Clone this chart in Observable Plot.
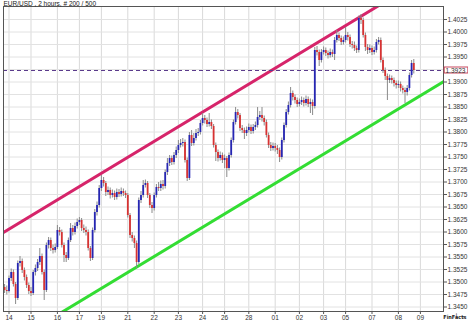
<!DOCTYPE html>
<html><head><meta charset="utf-8">
<script src="https://cdn.jsdelivr.net/npm/d3@7"></script>
<script src="https://cdn.jsdelivr.net/npm/@observablehq/plot@0.6"></script>
<style>html,body{margin:0;padding:0;background:#fff;}</style>
</head><body><div id="chart"></div>
<script>
const titleText = "EUR/USD , 2 hours, # 200 / 500";
const dayLabels = ["14","15","16","17","19","21","22","23","24","26","28","01","02","03","05","07","08","09"];
const dayTicks = [2,12,24,34,44,56,68,79,90,100,111,123,134,145,155,167,179,189];
const yGrid = [1.3450,1.3475,1.3500,1.3525,1.3550,1.3575,1.3600,1.3625,1.3650,1.3675,1.3700,1.3725,1.3750,1.3775,1.3800,1.3825,1.3850,1.3875,1.3900,1.3925,1.3950,1.3975,1.4000,1.4025];
const yLabels = [1.3450,1.3475,1.3500,1.3525,1.3550,1.3575,1.3600,1.3625,1.3650,1.3675,1.3700,1.3725,1.3750,1.3775,1.3800,1.3825,1.3850,1.3875,1.3900,1.3950,1.3975,1.4000,1.4025];
const lastPrice = 1.3923;
const upperChannel = [{i:-2, p:1.3595},{i:175, p:1.4066}];
const lowerChannel = [{i:-2, p:1.3365},{i:200, p:1.3902}];

const open = [1.3489,1.3483,1.3481,1.3507,1.3519,1.3495,1.3467,1.3537,1.3541,1.3523,
1.3509,1.3493,1.3481,1.3477,1.3519,1.3527,1.3539,1.3551,1.3519,1.3483,
1.3573,1.3583,1.3567,1.3563,1.3569,1.3603,1.3599,1.3573,1.3553,1.3547,
1.3583,1.3607,1.3599,1.3611,1.3619,1.3623,1.3607,1.3603,1.3599,1.3567,
1.3547,1.3603,1.3639,1.3653,1.3687,1.3703,1.3697,1.3679,1.3683,1.3673,
1.3677,1.3669,1.3679,1.3675,1.3681,1.3677,1.3673,1.3633,1.3593,1.3587,
1.3577,1.3539,1.3663,1.3673,1.3693,1.3697,1.3673,1.3653,1.3647,1.3673,
1.3689,1.3687,1.3695,1.3691,1.3719,1.3737,1.3747,1.3739,1.3753,1.3763,
1.3773,1.3777,1.3779,1.3743,1.3707,1.3793,1.3777,1.3787,1.3797,1.3799,
1.3817,1.3827,1.3823,1.3815,1.3819,1.3811,1.3773,1.3759,1.3747,1.3753,
1.3743,1.3747,1.3727,1.3753,1.3783,1.3819,1.3839,1.3833,1.3807,1.3803,
1.3797,1.3803,1.3809,1.3801,1.3809,1.3813,1.3829,1.3833,1.3827,1.3819,
1.3793,1.3773,1.3767,1.3771,1.3767,1.3763,1.3749,1.3783,1.3813,1.3839,
1.3853,1.3877,1.3869,1.3863,1.3855,1.3859,1.3863,1.3857,1.3865,1.3855,
1.3859,1.3851,1.3963,1.3959,1.3943,1.3959,1.3963,1.3957,1.3953,1.3959,
1.3955,1.3983,1.3993,1.3987,1.3979,1.3983,1.3993,1.3989,1.3975,1.3973,
1.3967,1.3963,1.4027,1.4023,1.3993,1.3969,1.3963,1.3967,1.3959,1.3963,
1.3979,1.3983,1.3943,1.3923,1.3911,1.3903,1.3907,1.3903,1.3897,1.3893,
1.3895,1.3887,1.3883,1.3879,1.3887,1.3913,1.3937];

const close = [1.3483,1.3481,1.3507,1.3519,1.3495,1.3467,1.3537,1.3541,1.3523,1.3509,
1.3493,1.3481,1.3477,1.3519,1.3527,1.3539,1.3551,1.3519,1.3483,1.3573,
1.3583,1.3567,1.3563,1.3569,1.3603,1.3599,1.3573,1.3553,1.3547,1.3583,
1.3607,1.3599,1.3611,1.3619,1.3623,1.3607,1.3603,1.3599,1.3567,1.3547,
1.3603,1.3639,1.3653,1.3687,1.3703,1.3697,1.3679,1.3683,1.3673,1.3677,
1.3669,1.3679,1.3675,1.3681,1.3677,1.3673,1.3633,1.3593,1.3587,1.3577,
1.3539,1.3663,1.3673,1.3693,1.3697,1.3673,1.3653,1.3647,1.3673,1.3689,
1.3687,1.3695,1.3691,1.3719,1.3737,1.3747,1.3739,1.3753,1.3763,1.3773,
1.3777,1.3779,1.3743,1.3707,1.3793,1.3777,1.3787,1.3797,1.3799,1.3817,
1.3827,1.3823,1.3815,1.3819,1.3811,1.3773,1.3759,1.3747,1.3753,1.3743,
1.3747,1.3727,1.3753,1.3783,1.3819,1.3839,1.3833,1.3807,1.3803,1.3797,
1.3803,1.3809,1.3801,1.3809,1.3813,1.3829,1.3833,1.3827,1.3819,1.3793,
1.3773,1.3767,1.3771,1.3767,1.3763,1.3749,1.3783,1.3813,1.3839,1.3853,
1.3877,1.3869,1.3863,1.3855,1.3859,1.3863,1.3857,1.3865,1.3855,1.3859,
1.3851,1.3963,1.3959,1.3943,1.3959,1.3963,1.3957,1.3953,1.3959,1.3955,
1.3983,1.3993,1.3987,1.3979,1.3983,1.3993,1.3989,1.3975,1.3973,1.3967,
1.3963,1.4027,1.4023,1.3993,1.3969,1.3963,1.3967,1.3959,1.3963,1.3979,
1.3983,1.3943,1.3923,1.3911,1.3903,1.3907,1.3903,1.3897,1.3893,1.3895,
1.3887,1.3883,1.3879,1.3887,1.3913,1.3937,1.3923];

const high = [1.3495,1.3492,1.3512,1.3526,1.3524,1.3499,1.3542,1.3551,1.3546,1.3528,
1.3514,1.3498,1.3489,1.3523,1.3534,1.3545,1.3567,1.3556,1.3524,1.3578,
1.3589,1.3588,1.3574,1.3576,1.3613,1.3609,1.3604,1.3578,1.3559,1.3588,
1.3617,1.3613,1.3618,1.3626,1.3629,1.3627,1.3614,1.3610,1.3604,1.3571,
1.3608,1.3645,1.3660,1.3693,1.3713,1.3709,1.3701,1.3690,1.3688,1.3684,
1.3682,1.3686,1.3685,1.3688,1.3686,1.3682,1.3677,1.3637,1.3599,1.3592,
1.3582,1.3668,1.3681,1.3703,1.3704,1.3701,1.3677,1.3659,1.3678,1.3695,
1.3699,1.3702,1.3703,1.3724,1.3747,1.3753,1.3752,1.3759,1.3770,1.3783,
1.3785,1.3787,1.3784,1.3748,1.3799,1.3803,1.3797,1.3805,1.3807,1.3823,
1.3837,1.3833,1.3828,1.3837,1.3824,1.3815,1.3778,1.3764,1.3760,1.3758,
1.3754,1.3751,1.3758,1.3788,1.3824,1.3849,1.3845,1.3837,1.3813,1.3808,
1.3810,1.3816,1.3814,1.3815,1.3820,1.3849,1.3841,1.3849,1.3832,1.3824,
1.3798,1.3779,1.3778,1.3777,1.3773,1.3768,1.3788,1.3818,1.3845,1.3860,
1.3889,1.3882,1.3874,1.3868,1.3866,1.3870,1.3868,1.3872,1.3870,1.3866,
1.3864,1.3969,1.3971,1.3964,1.3965,1.3970,1.3968,1.3962,1.3966,1.3964,
1.3989,1.4003,1.3998,1.3992,1.3990,1.4009,1.3999,1.3994,1.3981,1.3980,
1.3972,1.4032,1.4035,1.4028,1.3998,1.3975,1.3974,1.3972,1.3970,1.3985,
1.3989,1.3988,1.3948,1.3928,1.3916,1.3914,1.3912,1.3908,1.3902,1.3902,
1.3900,1.3892,1.3888,1.3893,1.3918,1.3943,1.3945];

const low = [1.3477,1.3474,1.3478,1.3501,1.3490,1.3455,1.3463,1.3530,1.3517,1.3502,
1.3487,1.3475,1.3471,1.3473,1.3512,1.3521,1.3533,1.3514,1.3463,1.3479,
1.3566,1.3561,1.3556,1.3558,1.3565,1.3592,1.3568,1.3539,1.3539,1.3543,
1.3579,1.3592,1.3594,1.3606,1.3613,1.3601,1.3597,1.3592,1.3562,1.3541,
1.3543,1.3598,1.3632,1.3648,1.3681,1.3690,1.3671,1.3673,1.3666,1.3668,
1.3663,1.3664,1.3669,1.3670,1.3671,1.3667,1.3628,1.3587,1.3580,1.3567,
1.3527,1.3535,1.3657,1.3668,1.3688,1.3667,1.3647,1.3637,1.3642,1.3668,
1.3681,1.3681,1.3684,1.3686,1.3713,1.3731,1.3733,1.3734,1.3747,1.3757,
1.3768,1.3770,1.3738,1.3701,1.3703,1.3771,1.3772,1.3782,1.3791,1.3794,
1.3812,1.3816,1.3809,1.3810,1.3805,1.3768,1.3741,1.3740,1.3742,1.3737,
1.3727,1.3709,1.3722,1.3748,1.3778,1.3814,1.3826,1.3801,1.3797,1.3785,
1.3791,1.3798,1.3795,1.3796,1.3803,1.3808,1.3823,1.3820,1.3812,1.3788,
1.3767,1.3761,1.3762,1.3760,1.3755,1.3739,1.3744,1.3778,1.3808,1.3834,
1.3848,1.3862,1.3856,1.3849,1.3850,1.3853,1.3850,1.3852,1.3849,1.3837,
1.3833,1.3846,1.3952,1.3931,1.3938,1.3954,1.3951,1.3946,1.3948,1.3949,
1.3943,1.3978,1.3981,1.3973,1.3974,1.3978,1.3982,1.3969,1.3966,1.3961,
1.3957,1.3958,1.4015,1.3988,1.3961,1.3955,1.3957,1.3953,1.3954,1.3958,
1.3974,1.3938,1.3917,1.3903,1.3863,1.3897,1.3896,1.3890,1.3886,1.3887,
1.3880,1.3876,1.3857,1.3872,1.3882,1.3908,1.3916];

const bars = close.map((c, i) => ({i, o: open[i], h: high[i], l: low[i], c}));
const labelOf = new Map(dayTicks.map((t, k) => [t, dayLabels[k]]));

const chart = Plot.plot({
  width: 468,
  height: 320,
  marginLeft: 3,
  marginRight: 25,
  marginTop: 6,
  marginBottom: 9,
  style: {fontFamily: "'Liberation Sans', Arial, sans-serif", fontSize: "6.5px", color: "#333", background: "#fff", overflow: "visible"},
  x: {domain: [-0.5, 199.5], axis: null},
  y: {domain: [1.3441, 1.4051], axis: null},
  marks: [
    Plot.gridX(dayTicks, {stroke: "#d9d9d9", strokeOpacity: 1}),
    Plot.gridY(yGrid, {stroke: "#e2e2e2", strokeOpacity: 1}),
    Plot.line(upperChannel, {x: "i", y: "p", stroke: "#d6246a", strokeWidth: 3, clip: true}),
    Plot.line(lowerChannel, {x: "i", y: "p", stroke: "#33dd33", strokeWidth: 3, clip: true}),
    Plot.ruleY([lastPrice], {stroke: "#5b3b8c", strokeDasharray: "4,3", strokeWidth: 1}),
    Plot.ruleX(bars, {x: "i", y1: "l", y2: "h", stroke: "#8a8a8a", strokeWidth: 1}),
    Plot.ruleX(bars, {x: "i", y1: "o", y2: "c", stroke: d => d.c >= d.o ? "#2626b4" : "#d83232", strokeWidth: 1.8}),
    Plot.frame({stroke: "#555"}),
    Plot.axisX(dayTicks, {anchor: "bottom", tickSize: 3, tickPadding: 1, tickFormat: d => labelOf.get(d), stroke: "#555", fill: "#333"}),
    Plot.axisY(yLabels, {anchor: "right", tickSize: 3, tickPadding: 1, tickFormat: d => d.toFixed(4), stroke: "#555", fill: "#333"}),
    Plot.rect([lastPrice], {x1: 200.05, x2: 210.8, y1: d => d - 0.0006, y2: d => d + 0.0006, fill: "#fff", stroke: "#c8485e", strokeWidth: 1}),
    Plot.text([lastPrice], {x: 200.4, y: d => d, text: d => d.toFixed(4), textAnchor: "start", fill: "#333"}),
    Plot.text([titleText], {frameAnchor: "top-left", dx: 0, dy: -1, lineAnchor: "bottom", textAnchor: "start", fill: "#222"}),
    Plot.text(["FinFacts"], {frameAnchor: "bottom-right", dx: 23, dy: 6, lineAnchor: "middle", textAnchor: "end", fill: "#222", fontWeight: "bold", fontSize: 5.5, fontFamily: "'DejaVu Sans Condensed', 'DejaVu Sans', sans-serif"})
  ]
});
document.getElementById("chart").appendChild(chart);
</script>
</body></html>
